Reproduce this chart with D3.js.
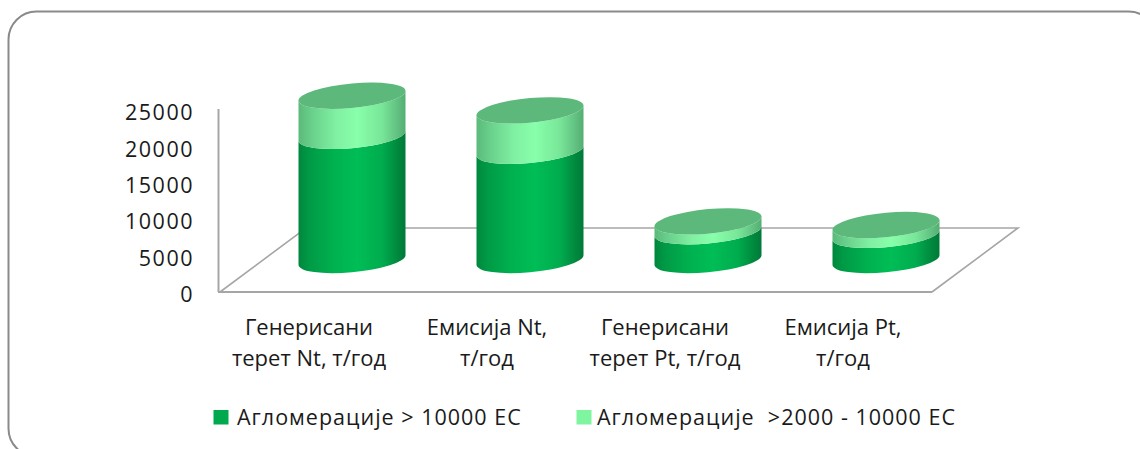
<!DOCTYPE html>
<html>
<head>
<meta charset="utf-8">
<script src="https://cdn.jsdelivr.net/npm/d3@7/dist/d3.min.js"></script>
<style>
html, body { margin: 0; padding: 0; background: #fff; overflow: hidden; }
svg { display: block; }
text { font-family: "Open Sans", "Noto Sans", sans-serif; fill: #1a1a1a; }
</style>
</head>
<body>
<svg id="chart" width="1140" height="449"></svg>
<script>
// Nitrogen and phosphorus loads by agglomeration size, t/year
const categories = [
  ["Генерисани", "терет Nt, т/год"],
  ["Емисија Nt,", "т/год"],
  ["Генерисани", "терет Pt, т/год"],
  ["Емисија Pt,", "т/год"]
];
const seriesNames = ["Агломерације > 10000 ЕС", "Агломерације  >2000 - 10000 ЕС"];
const largeAgglomerations = [17050, 15000, 3950, 3450];
const mediumAgglomerations = [5510, 5550, 1350, 1350];
const valueTicks = [0, 5000, 10000, 15000, 20000, 25000];

const svg = d3.select("#chart");

// Outer rounded frame runs past the right and bottom edges of the page
svg.append("rect")
  .attr("x", 8.5).attr("y", 11.5)
  .attr("width", 1148).attr("height", 445)
  .attr("rx", 28).attr("ry", 28)
  .attr("fill", "#fff").attr("stroke", "#8a8a8a").attr("stroke-width", 2);

// Scales: x runs along the front edge of the floor, y up the left wall
const floorLeft = 220, floorRight = 932, floorY = 292;
const depthX = 86, depthY = 64;
const x = d3.scaleBand().domain(d3.range(categories.length)).range([floorLeft, floorRight]);
const y = d3.scaleLinear().domain([0, 25000]).range([floorY, 110]);

// Bars stand halfway back on the floor
const barDX = depthX / 2, barDY = depthY / 2;
const rx = 53.5, ry = 12.3, shear = -0.09;

const defs = svg.append("defs");
function addGradient(id, stops) {
  const g = defs.append("linearGradient").attr("id", id)
    .attr("x1", "0%").attr("x2", "100%").attr("y1", "0%").attr("y2", "0%");
  stops.forEach(([o, c]) => g.append("stop").attr("offset", o).attr("stop-color", c));
}
addGradient("darkGreen", [
  ["0%", "#00873d"], ["10%", "#009a46"], ["35%", "#00b350"],
  ["55%", "#00bd56"], ["78%", "#00ac4e"], ["92%", "#008a3e"], ["100%", "#00793a"]
]);
addGradient("lightGreen", [
  ["0%", "#5cb97b"], ["12%", "#68cf8a"], ["35%", "#80f0a2"],
  ["55%", "#88ffaa"], ["78%", "#78e698"], ["92%", "#62c282"], ["100%", "#55ae72"]
]);

// Floor and left wall edges
const gridColor = "#a6a6a6";
const edges = svg.append("g").attr("fill", "none").attr("stroke", gridColor);
edges.append("path").attr("stroke-width", 2)
  .attr("d", d3.line()([[floorLeft - 1.5, y(25000) - 1], [floorLeft - 1.5, floorY]]));
edges.append("path").attr("stroke-width", 1.6)
  .attr("d", d3.line()([
    [floorLeft, floorY], [floorLeft + depthX, floorY - depthY],
    [floorRight + depthX, floorY - depthY], [floorRight, floorY]
  ]));
edges.append("path").attr("stroke-width", 2)
  .attr("d", d3.line()([[floorLeft - 2, floorY], [floorRight, floorY]]));

// One side-wall segment of a cylinder between two heights
function segment(yTop, yBottom) {
  return `M${-rx},${yTop}A${rx},${ry} 0 0 0 ${rx},${yTop}` +
         `L${rx},${yBottom}A${rx},${ry} 0 0 1 ${-rx},${yBottom}Z`;
}

// Shear about each bar's own centre so the vertical sides stay vertical
const bars = svg.append("g").selectAll("g").data(categories).join("g");
bars.each(function (d, i) {
  const g = d3.select(this);
  const cx = x(i) + x.bandwidth() / 2 + barDX;
  const base = y(0) - barDY;
  const mid = y(largeAgglomerations[i]) - barDY;
  const top = y(largeAgglomerations[i] + mediumAgglomerations[i]) - barDY;
  g.attr("transform", `translate(${cx},0) matrix(1,${shear},0,1,0,0)`);
  g.append("path").attr("d", segment(mid, base)).attr("fill", "url(#darkGreen)");
  g.append("path").attr("d", segment(top, mid)).attr("fill", "url(#lightGreen)");
  g.append("ellipse").attr("cx", 0).attr("cy", top)
    .attr("rx", rx).attr("ry", ry).attr("fill", "#5cb97b");
});

// Value axis labels
const axis = d3.axisLeft(y).tickValues(valueTicks).tickSize(0).tickPadding(0).tickFormat(d3.format("d"));
const axisG = svg.append("g").attr("transform", "translate(194,2)").call(axis);
axisG.select(".domain").remove();
axisG.selectAll("text")
  .style("font-family", '"Open Sans", sans-serif')
  .style("font-size", "21.5px").attr("fill", "#1a1a1a")
  .attr("letter-spacing", "1.5").attr("dy", "0.36em");

// Category labels, two lines each
const labels = svg.append("g").selectAll("text").data(categories).join("text")
  .attr("text-anchor", "middle")
  .attr("font-size", 22);
labels.each(function (d, i) {
  d3.select(this).selectAll("tspan").data(d).join("tspan")
    .attr("x", x(i) + x.bandwidth() / 2)
    .attr("y", (t, k) => 335 + k * 31)
    .text(t => t);
});

// Legend
const legendSwatch = [213.5, 576.5];
const legendText = [237, 597];
const legendColors = ["#00a94d", "#7ff5a0"];
const legend = svg.append("g").selectAll("g").data(seriesNames).join("g");
legend.append("rect")
  .attr("x", (d, i) => legendSwatch[i]).attr("y", 410)
  .attr("width", 15).attr("height", 14.5)
  .attr("fill", (d, i) => legendColors[i]);
legend.append("text")
  .attr("x", (d, i) => legendText[i]).attr("y", 424.5)
  .attr("font-size", 21.5)
  .attr("letter-spacing", 1)
  .style("white-space", "pre")
  .text(d => d);
</script>
</body>
</html>
